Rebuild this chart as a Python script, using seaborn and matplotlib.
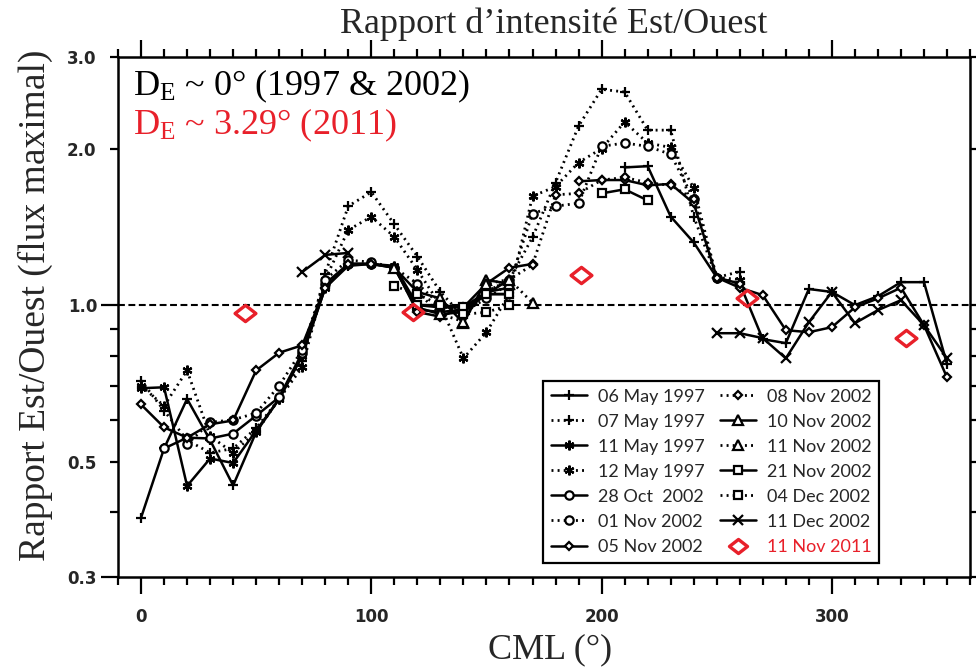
import numpy as np
import pandas as pd
import matplotlib
matplotlib.use('Agg')
import matplotlib.pyplot as plt
from matplotlib.lines import Line2D
from matplotlib.path import Path
import seaborn as sns

nan = np.nan

# CML grid (deg), one value every 10 deg
cml = [0, 10, 20, 30, 40, 50, 60, 70, 80, 90, 100, 110, 120, 130, 140, 150, 160, 170,
       180, 190, 200, 210, 220, 230, 240, 250, 260, 270, 280, 290, 300, 310, 320, 330, 340, 350]

may06_97 = [0.39, 0.53, 0.66, 0.55, 0.45, 0.57, 0.66, 0.80, 1.08, 1.19, 1.20, 1.18, 0.98, 0.97, 0.98, 1.05, 1.05, nan,
            nan, nan, nan, 1.84, 1.85, 1.48, 1.32, 1.13, 1.10, 0.86, 0.845, 1.074, 1.06, 1.00, 1.04, 1.107, 1.107, 0.77]
may07_97 = [0.716, 0.627, 0.55, 0.52, 0.53, 0.58, 0.66, 0.78, 1.15, 1.55, 1.65, 1.43, 1.24, 1.06, 0.95, 1.06, 1.12, 1.35,
            1.72, 2.21, 2.60, 2.57, 2.17, 2.17, 1.48, 1.13, 1.16, nan, nan, nan, nan, nan, nan, nan, nan, nan]
may11_97 = [0.692, 0.695, 0.449, 0.507, 0.497, 0.574, 0.66, 0.80, 1.08, 1.20, 1.20, 1.19, 1.00, 0.99, 0.99, 1.06, 1.08, nan,
            nan, nan, nan, nan, nan, nan, nan, nan, nan, nan, nan, nan, nan, nan, nan, nan, nan, nan]
may12_97 = [0.70, 0.64, 0.749, 0.56, 0.52, 0.57, 0.66, 0.76, 1.12, 1.395, 1.479, 1.353, 1.168, 1.00, 0.79, 0.887, 1.05, 1.62,
            1.69, 1.88, 2.00, 2.25, 2.05, 2.01, 1.68, 1.13, 1.12, nan, nan, nan, nan, nan, nan, nan, nan, nan]
oct28_02 = [nan, 0.53, 0.556, 0.554, 0.566, 0.613, 0.665, 0.81, 1.10, 1.20, 1.20, 1.18, 0.99, 0.96, 0.97, 1.05, 1.12, nan,
            nan, nan, nan, nan, nan, nan, nan, nan, nan, nan, nan, nan, nan, nan, nan, nan, nan, nan]
nov01_02 = [nan, nan, 0.54, 0.595, 0.602, 0.62, 0.70, 0.82, 1.12, 1.22, 1.21, 1.18, 1.10, 1.00, 0.97, 1.03, 1.10, 1.50,
            1.55, 1.57, 2.02, 2.05, 2.02, 1.95, 1.60, 1.13, nan, nan, nan, nan, nan, nan, nan, nan, nan, nan]
nov05_02 = [0.644, 0.582, 0.556, 0.59, 0.60, 0.749, 0.81, 0.837, 1.08, 1.20, 1.20, 1.184, 0.97, 0.95, 0.99, 1.10, 1.18, 1.20,
            nan, 1.73, 1.74, 1.74, 1.70, 1.71, 1.57, 1.13, 1.08, 1.045, 0.895, 0.887, 0.907, 0.99, 1.03, 1.08, 0.915, 0.726]
nov08_02 = [nan, nan, nan, nan, nan, nan, nan, nan, nan, nan, nan, nan, nan, nan, nan, 1.06, 1.12, 1.195,
            1.63, 1.64, 1.74, 1.76, 1.72, 1.70, 1.60, 1.13, 1.10, nan, nan, nan, nan, nan, nan, nan, nan, nan]
nov10_02 = [nan, nan, nan, nan, nan, nan, nan, nan, nan, nan, nan, 1.18, 1.06, 1.03, 0.923, 1.117, 1.10, nan,
            nan, nan, nan, nan, nan, nan, nan, nan, nan, nan, nan, nan, nan, nan, nan, nan, nan, nan]
nov11_02 = [nan, nan, nan, nan, nan, nan, nan, nan, nan, nan, nan, nan, 1.06, 0.96, 0.93, 1.10, 1.12, 1.01,
            nan, nan, nan, nan, nan, nan, nan, nan, nan, nan, nan, nan, nan, nan, nan, nan, nan, nan]
nov21_02 = [nan, nan, nan, nan, nan, nan, nan, nan, nan, nan, nan, nan, 1.00, 1.00, 0.99, 1.05, 1.05, nan,
            nan, nan, 1.64, 1.67, 1.59, nan, nan, nan, nan, nan, nan, nan, nan, nan, nan, nan, nan, nan]
dec04_02 = [nan, nan, nan, nan, nan, nan, nan, nan, nan, nan, nan, 1.088, 1.05, 1.00, 0.96, 0.969, 1.00, nan,
            nan, nan, nan, nan, nan, nan, nan, nan, nan, nan, nan, nan, nan, nan, nan, nan, nan, nan]
dec11_02 = [nan, nan, nan, nan, nan, nan, nan, 1.158, 1.249, 1.26, nan, nan, nan, nan, nan, nan, nan, nan,
            nan, nan, nan, nan, nan, nan, nan, 0.883, 0.883, 0.864, 0.79, 0.927, 1.06, 0.923, 0.978, 1.022, 0.915, 0.79]

cml_2011 = [45, 118, 191, 263, 332]
ratio_2011 = [0.965, 0.969, 1.143, 1.032, 0.864]

red = '#E8202A'
dotted = (0, (0.7, 1.5))

# label, values, marker, linestyle, markersize, open marker?
series = [
    ('06 May 1997', may06_97, '+', '-', 7, False),
    ('07 May 1997', may07_97, '+', dotted, 7, False),
    ('11 May 1997', may11_97, (6, 2, 0), '-', 7, False),
    ('12 May 1997', may12_97, (6, 2, 0), dotted, 7, False),
    ('28 Oct  2002', oct28_02, 'o', '-', 6, True),
    ('01 Nov 2002', nov01_02, 'o', dotted, 6, True),
    ('05 Nov 2002', nov05_02, 'D', '-', 4.5, True),
    ('08 Nov 2002', nov08_02, 'D', dotted, 4.5, True),
    ('10 Nov 2002', nov10_02, '^', '-', 6.5, True),
    ('11 Nov 2002', nov11_02, '^', dotted, 6.5, True),
    ('21 Nov 2002', nov21_02, 's', '-', 6, True),
    ('04 Dec 2002', dec04_02, 's', dotted, 6, True),
    ('11 Dec 2002', dec11_02, 'x', '-', 6.5, False),
]
for s in series:
    assert len(s[1]) == len(cml)

diamond = Path([(-1, 0), (0, 0.78), (1, 0), (0, -0.78), (-1, 0)],
               [Path.MOVETO, Path.LINETO, Path.LINETO, Path.LINETO, Path.CLOSEPOLY])

sns.set_style('ticks')
plt.rcParams['font.family'] = ['Liberation Serif', 'DejaVu Serif']
plt.rcParams['mathtext.fontset'] = 'custom'
plt.rcParams['mathtext.rm'] = 'Liberation Serif'
plt.rcParams['mathtext.default'] = 'rm'

fig, ax = plt.subplots(figsize=(9.76, 6.70), dpi=100)
fig.subplots_adjust(left=0.1209, right=0.9939, bottom=0.1388, top=0.9149)
ax.set_yscale('log')

ax.axhline(1.0, color='black', lw=1.5, ls=(0, (3.3, 1.7)), zorder=1)

for label, vals, marker, ls, ms, is_open in series:
    df = pd.DataFrame({'cml': cml, 'ratio': vals})
    df['seg'] = df['ratio'].isna().cumsum()
    df = df.dropna()
    lw = 1.8 if ls == '-' else 2.0
    sns.lineplot(data=df, x='cml', y='ratio', units='seg', estimator=None, sort=False,
                 color='black', linestyle=ls, linewidth=lw, marker=marker, markersize=ms,
                 markerfacecolor='white' if is_open else 'black', markeredgecolor='black',
                 markeredgewidth=1.6, legend=False, ax=ax, zorder=3)

df11 = pd.DataFrame({'cml': cml_2011, 'ratio': ratio_2011})
sns.lineplot(data=df11, x='cml', y='ratio', estimator=None, sort=False, linestyle='none',
             marker=diamond, markersize=15, markerfacecolor='none', markeredgecolor=red,
             markeredgewidth=2.4, legend=False, ax=ax, zorder=5)

ax.set_xlim(-10, 360)
ax.set_ylim(0.3, 3.0)

ax.set_xticks([0, 100, 200, 300])
ax.set_xticklabels(['0', '100', '200', '300'])
ax.set_xticks(np.arange(-10, 361, 10), minor=True)
ax.set_yticks([0.3, 1.0])
ax.set_yticklabels(['0.3', '1.0'])
ax.set_yticks([0.4, 0.5, 0.6, 0.7, 0.8, 0.9, 2.0, 3.0], minor=True)
ax.set_yticklabels(['', '0.5', '', '', '', '', '2.0', '3.0'], minor=True)

ax.tick_params(which='major', direction='out', length=12, width=1.6, top=True, right=True,
               labelsize=12, color='black')
ax.tick_params(which='minor', direction='out', length=6, width=1.6, top=True, right=True,
               labelsize=12, color='black')
ax.tick_params(axis='x', which='major', pad=10)
ax.tick_params(axis='y', which='major', pad=3)
ax.tick_params(axis='y', which='minor', pad=9.5)
for lbl in ax.get_xticklabels() + ax.get_yticklabels() + ax.get_yticklabels(minor=True):
    lbl.set_fontfamily('DejaVu Sans')
    lbl.set_fontweight('bold')

for sp in ax.spines.values():
    sp.set_linewidth(1.8)
    sp.set_color('black')

ax.set_xlabel('CML (°)', fontsize=26)
ax.xaxis.set_label_coords(0.507, -0.108)
ax.set_ylabel('Rapport Est/Ouest (flux maximal)', fontsize=27)
ax.yaxis.set_label_coords(-0.076, 0.523)

fig.text(0.567, 1 - 33 / 670, 'Rapport d’intensité Est/Ouest', fontsize=26, ha='center', va='baseline')

ax.text(0.018, 0.927, r'D$_E$ ~ 0° (1997 & 2002)', transform=ax.transAxes, fontsize=26,
        va='baseline', color='black')
ax.text(0.018, 0.852, r'D$_E$ ~ 3.29° (2011)', transform=ax.transAxes, fontsize=26,
        va='baseline', color=red)

handles = []
labels = []
for label, vals, marker, ls, ms, is_open in series:
    lw = 1.8 if ls == '-' else 2.0
    handles.append(Line2D([], [], color='black', linestyle=ls, linewidth=lw, marker=marker, markersize=ms,
                          markerfacecolor='white' if is_open else 'black', markeredgecolor='black',
                          markeredgewidth=1.6))
    labels.append(label)
handles.append(Line2D([], [], linestyle='none', marker=diamond, markersize=13, markerfacecolor='none',
                      markeredgecolor=red, markeredgewidth=2.4))
labels.append('11 Nov 2011')

leg = ax.legend(handles, labels, ncol=2, loc='lower left', bbox_to_anchor=(0.499, 0.027),
                frameon=True, fancybox=False, edgecolor='black', framealpha=1,
                prop={'family': 'Lato', 'size': 13}, handlelength=2.0, columnspacing=0.8,
                labelspacing=0.5, borderpad=0.45, handletextpad=0.6, borderaxespad=0)
leg.get_frame().set_linewidth(1.6)
leg.get_texts()[-1].set_color(red)
leg.set_zorder(10)

plt.savefig('out.png', dpi=100)
